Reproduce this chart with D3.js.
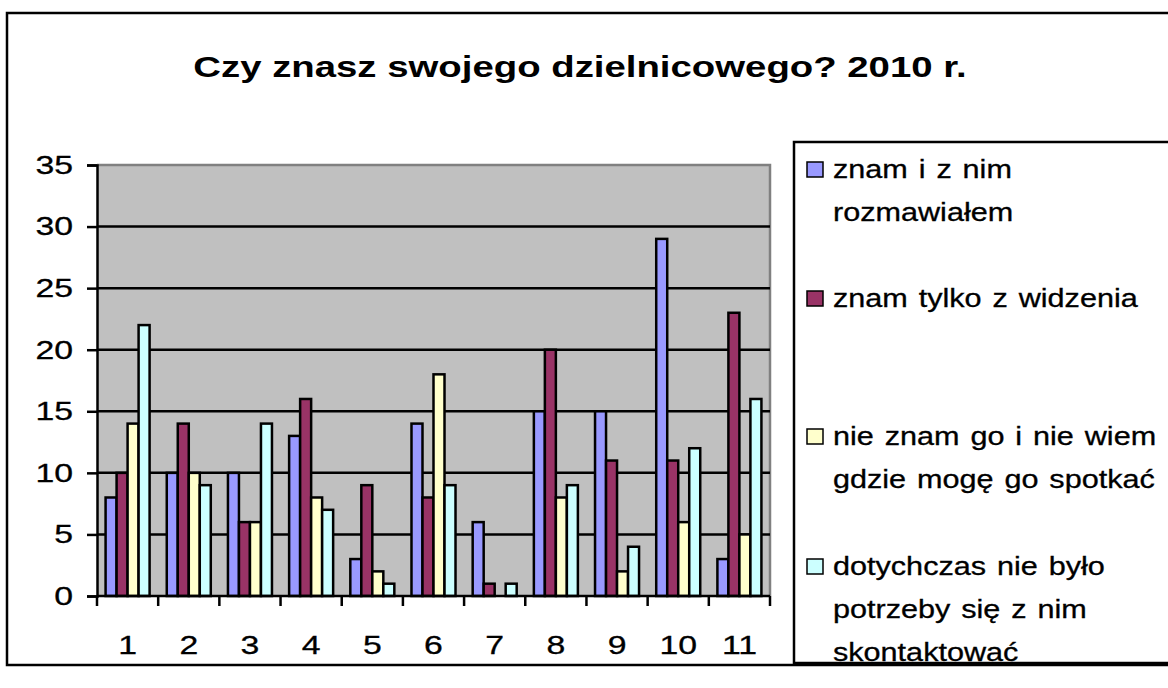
<!DOCTYPE html>
<html>
<head>
<meta charset="utf-8">
<script src="https://cdn.jsdelivr.net/npm/d3@7"></script>
<style>
  body { margin: 0; background: #ffffff; }
  svg { display: block; }
  text { font-family: "Liberation Sans", Arial, sans-serif; fill: #000; }
  .label { stroke: #000; stroke-width: 0.3px; }
</style>
</head>
<body>
<svg id="chart" width="1168" height="688"></svg>
<script>
// Survey answers per district (1–11)
const categories = ["1", "2", "3", "4", "5", "6", "7", "8", "9", "10", "11"];
const seriesNames = [
  ["znam i z nim", "rozmawiałem"],
  ["znam tylko z widzenia"],
  ["nie znam go i nie wiem", "gdzie mogę go spotkać"],
  ["dotychczas nie było", "potrzeby się z nim", "skontaktować"]
];
const znamRozmawialem = [8, 10, 10, 13, 3, 14, 6, 15, 15, 29, 3];
const znamZWidzenia   = [10, 14, 6, 16, 9, 8, 1, 20, 11, 11, 23];
const nieZnam         = [14, 10, 6, 8, 2, 18, 0, 8, 2, 6, 5];
const brakPotrzeby    = [22, 9, 14, 7, 1, 9, 1, 9, 4, 12, 16];
const yTicks = [0, 5, 10, 15, 20, 25, 30, 35];
const titleText = "Czy znasz swojego dzielnicowego? 2010 r.";

const seriesValues = [znamRozmawialem, znamZWidzenia, nieZnam, brakPotrzeby];
const colors = ["#9999FF", "#993366", "#FFFFCC", "#CCFFFF"];

// horizontal text stretch used throughout the chart
const stretch = 1.3;

const svg = d3.select("#chart");
const plot = { left: 97, right: 770, top: 165, bottom: 596 };

// outer chart frame
svg.append("rect")
  .attr("x", 7).attr("y", 13).attr("width", 1175).attr("height", 652)
  .attr("fill", "#fff").attr("stroke", "#000").attr("stroke-width", 2.5);

// title
svg.append("text")
  .attr("transform", `translate(580,77) scale(${stretch},1)`)
  .attr("text-anchor", "middle")
  .style("font-size", "29.5px").style("font-weight", "bold")
  .text(titleText);

const x = d3.scaleBand().domain(categories).range([plot.left, plot.right]).padding(0);
const xs = d3.scaleBand().domain(d3.range(seriesValues.length))
  .range([0, x.bandwidth()]).paddingInner(0).paddingOuter(0.78);
const y = d3.scaleLinear().domain([0, 35]).range([plot.bottom, plot.top]);

// plot background
svg.append("rect")
  .attr("x", plot.left).attr("y", plot.top)
  .attr("width", plot.right - plot.left).attr("height", plot.bottom - plot.top)
  .attr("fill", "#C0C0C0");

// gray plot frame on top and right
svg.append("path")
  .attr("d", `M${plot.left},${plot.top}H${plot.right}V${plot.bottom}`)
  .attr("fill", "none").attr("stroke", "#808080").attr("stroke-width", 2.5);

// gridlines
svg.append("g").selectAll("line")
  .data(yTicks.filter(t => t > 0 && t < 35))
  .join("line")
  .attr("x1", plot.left).attr("x2", plot.right)
  .attr("y1", d => y(d)).attr("y2", d => y(d))
  .attr("stroke", "#000").attr("stroke-width", 2.5);

// bars
const groups = svg.append("g").selectAll("g")
  .data(categories)
  .join("g")
  .attr("transform", d => `translate(${x(d)},0)`);

groups.selectAll("rect")
  .data((c, i) => seriesValues.map((vals, s) => ({ s, v: vals[i] })))
  .join("rect")
  .filter(d => d.v > 0)
  .attr("x", d => xs(d.s))
  .attr("width", xs.bandwidth())
  .attr("y", d => y(d.v))
  .attr("height", d => y(0) - y(d.v))
  .attr("fill", d => colors[d.s])
  .attr("stroke", "#000").attr("stroke-width", 2.5);

// y axis
const yAxis = d3.axisLeft(y).tickValues(yTicks).tickSize(10).tickPadding(14).tickFormat(d3.format("d"));
const gy = svg.append("g").attr("transform", `translate(${plot.left},0)`).call(yAxis);
gy.select(".domain").attr("stroke", "#000").attr("stroke-width", 2.5);
gy.selectAll(".tick line").attr("stroke", "#000").attr("stroke-width", 2.5);
gy.selectAll(".tick text")
  .attr("class", "label")
  .style("font-size", "26px").attr("font-family", null)
  .each(function () {
    const t = d3.select(this);
    t.attr("transform", `translate(${t.attr("x")},0) scale(${stretch},1) translate(${-t.attr("x")},0)`);
  });

// x axis: ticks at category boundaries
const gx = svg.append("g").attr("transform", `translate(0,${plot.bottom})`);
gx.append("line")
  .attr("x1", plot.left).attr("x2", plot.right)
  .attr("stroke", "#000").attr("stroke-width", 2.5);
gx.selectAll("line.tick")
  .data(categories.map(c => x(c)).concat([plot.right]))
  .join("line").attr("class", "tick")
  .attr("x1", d => d).attr("x2", d => d)
  .attr("y1", 0).attr("y2", 10)
  .attr("stroke", "#000").attr("stroke-width", 2.5);
gx.selectAll("text")
  .data(categories)
  .join("text")
  .attr("class", "label")
  .attr("transform", d => `translate(${x(d) + x.bandwidth() / 2},58) scale(${stretch},1)`)
  .attr("text-anchor", "middle")
  .style("font-size", "26px")
  .text(d => d);

// legend
const legend = svg.append("g");
legend.append("rect")
  .attr("x", 794).attr("y", 142).attr("width", 385).attr("height", 521)
  .attr("fill", "#fff").attr("stroke", "#000").attr("stroke-width", 2.5);

const legendBaselines = [178, 307, 445, 575];
const lineGap = 43;
seriesNames.forEach((lines, s) => {
  const b = legendBaselines[s];
  legend.append("rect")
    .attr("x", 807).attr("y", b - 16).attr("width", 16).attr("height", 15)
    .attr("fill", colors[s]).attr("stroke", "#000").attr("stroke-width", 1.5);
  lines.forEach((ln, k) => {
    legend.append("text")
      .attr("class", "label")
      .attr("transform", `translate(833,${b + k * lineGap}) scale(1.2,1)`)
      .style("font-size", "25.5px")
      .style("word-spacing", "2px")
      .text(ln);
  });
});
</script>
</body>
</html>
